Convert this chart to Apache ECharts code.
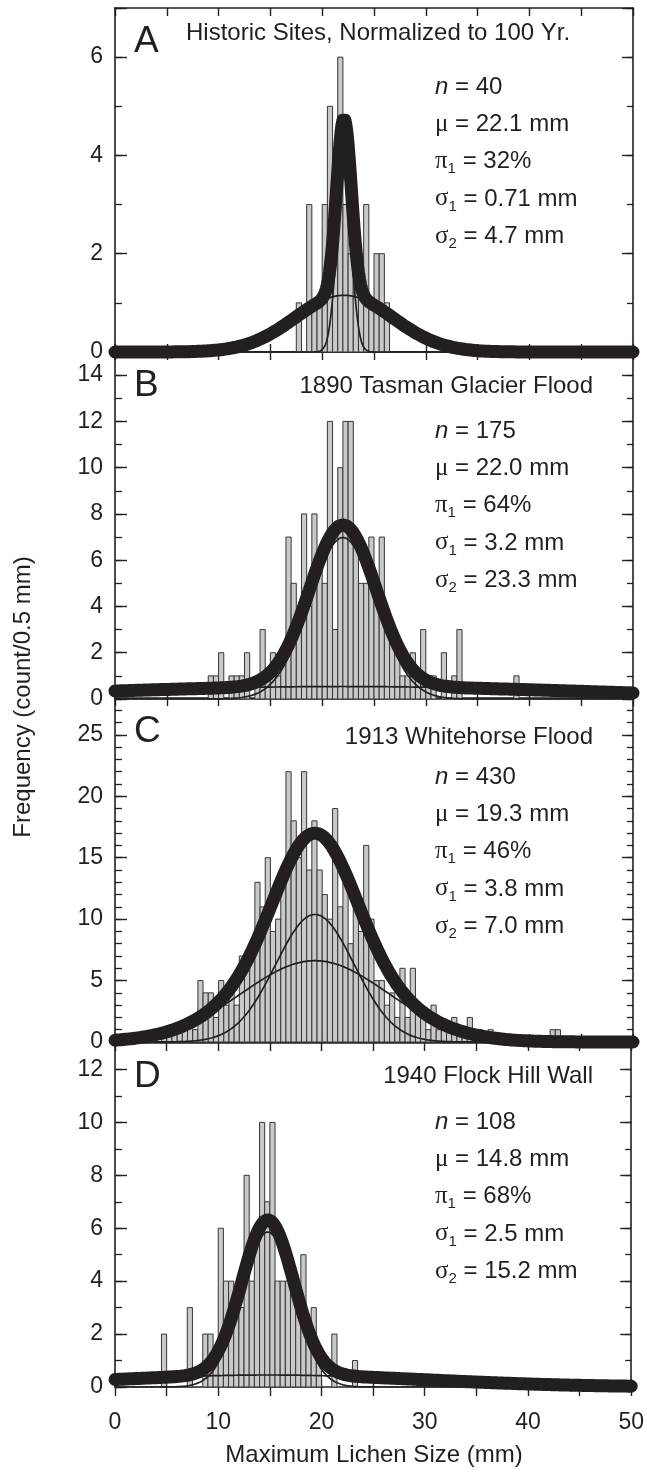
<!DOCTYPE html>
<html><head><meta charset="utf-8">
<script src="https://cdn.jsdelivr.net/npm/echarts@6/dist/echarts.min.js"></script>
<style>html,body{margin:0;padding:0;background:#fff}#c{width:647px;height:1475px}</style>
</head><body><div id="c"></div>
<script>
// ---------------- data ----------------
const binWidth = 0.5;
const binsA = [17.5,18.0,18.5,19.0,19.5,20.0,20.5,21.0,21.5,22.0,22.5,23.0,23.5,24.0,24.5,25.0,25.5,26.0];
const countsA = [1,0,3,1,1,3,5,2,6,3,2,2,2,3,1,2,2,1];

const binsB = [9.0,9.5,10.0,10.5,11.0,11.5,12.0,12.5,13.0,13.5,14.0,14.5,15.0,15.5,16.0,16.5,17.0,17.5,18.0,18.5,19.0,19.5,20.0,20.5,21.0,21.5,22.0,22.5,23.0,23.5,24.0,24.5,25.0,25.5,26.0,26.5,27.0,27.5,28.0,28.5,29.0,29.5,30.0,30.5,31.0,31.5,32.0,32.5,33.0,38.5];
const countsB = [1,1,2,0,1,1,1,2,0,1,3,1,2,1,2,7,5,3,8,4,8,6,5,12,3,10,12,12,7,5,5,7,5,7,3,3,2,1,1,2,1,3,1,1,0,2,0,1,3,1];

const binsC = [4.5,5.0,5.5,6.0,6.5,7.0,7.5,8.0,8.5,9.0,9.5,10.0,10.5,11.0,11.5,12.0,12.5,13.0,13.5,14.0,14.5,15.0,15.5,16.0,16.5,17.0,17.5,18.0,18.5,19.0,19.5,20.0,20.5,21.0,21.5,22.0,22.5,23.0,23.5,24.0,24.5,25.0,25.5,26.0,26.5,27.0,27.5,28.0,28.5,29.0,29.5,30.0,30.5,31.0,31.5,32.0,32.5,33.0,33.5,34.0,34.5,35.0,35.5,36.0,42.0,42.5];
const countsC = [1,1,1,1,1,2,1,5,4,4,2,5,3,5,3,7,7,8,13,11,15,9,10,13,22,18,15,22,14,18,14,12,10,19,11,14,8,11,9,16,10,5,5,3,4,2,6,2,6,3,2,1,3,1,1,1,2,1,1,2,0,1,0,1,1,1];

const binsD = [4.5,5.0,5.5,6.0,6.5,7.0,7.5,8.0,8.5,9.0,9.5,10.0,10.5,11.0,11.5,12.0,12.5,13.0,13.5,14.0,14.5,15.0,15.5,16.0,16.5,17.0,17.5,18.0,18.5,19.0,19.5,20.0,20.5,21.0,21.5,22.0,22.5,23.0];
const countsD = [2,0,0,0,0,3,0,0,2,2,1,6,4,4,3,3,8,4,6,10,7,10,4,4,4,4,3,5,2,3,1,0,0,2,0,0,0,1];

// panel texts and fitted-model parameters (as printed on the chart)
const panelLetters = ['A','B','C','D'];
const panelTitles = ['Historic Sites, Normalized to 100 Yr.','1890 Tasman Glacier Flood','1913 Whitehorse Flood','1940 Flock Hill Wall'];
const nValues = [40, 175, 430, 108];
const muValues = ['22.1', '22.0', '19.3', '14.8'];
const pi1Values = ['32', '64', '46', '68'];
const sigma1Values = ['0.71', '3.2', '3.8', '2.5'];
const sigma2Values = ['4.7', '23.3', '7.0', '15.2'];

// axis tick settings
const xTickValues = [0, 10, 20, 30, 40, 50];
const yMaxValues = [7, 15, 28, 13];
const yLabelSteps = [2, 2, 5, 2];
const xAxisTitle = 'Maximum Lichen Size (mm)';
const yAxisTitle = 'Frequency (count/0.5 mm)';

// ---------------- layout ----------------
const FONT = '"Liberation Sans", Arial, Helvetica, sans-serif';
const INK = '#231f20';
const gridLeft = 115, gridWidth = 518;
const gridTops = [8, 352, 698, 1043];
const gridHeights = [344, 347, 344, 344];
const titleDy = [25, 34, 39, 33];

const bins = [binsA, binsB, binsC, binsD];
const counts = [countsA, countsB, countsC, countsD];

function phi(z){ return Math.exp(-0.5*z*z)/Math.sqrt(2*Math.PI); }
function curves(i){
  const n = nValues[i], mu = +muValues[i], p1 = (+pi1Values[i])/100, s1 = +sigma1Values[i], s2 = +sigma2Values[i];
  const scale = n*binWidth;
  const c1 = [], c2 = [], tot = [];
  for (let k = 0; k <= 500; k++){
    const x = k/10;
    const a = scale*p1*phi((x-mu)/s1)/s1;
    const b = scale*(1-p1)*phi((x-mu)/s2)/s2;
    c1.push([x,a]); c2.push([x,b]); tot.push([x,a+b]);
  }
  return {c1, c2, tot};
}

const grid = [], xAxis = [], yAxis = [], series = [], graphic = [];
const isMult = (v, s) => Math.abs(v/s - Math.round(v/s)) < 1e-6;

for (let i = 0; i < 4; i++){
  grid.push({left: gridLeft, top: gridTops[i], width: gridWidth, height: gridHeights[i], containLabel: false});
  const lineStyle = {color: INK, width: 1.6};
  xAxis.push({gridIndex: i, type: 'value', min: 0, max: 50, interval: 5, position: 'bottom',
    axisLine: {show: true, onZero: false, lineStyle},
    axisTick: {show: true, inside: true, length: 8, lineStyle: {color: INK, width: 1.4}},
    axisLabel: {show: i === 3, margin: 24, fontSize: 23, fontFamily: FONT, color: INK,
      formatter: v => (xTickValues.indexOf(v) >= 0 ? String(v) : '')},
    splitLine: {show: false}});
  xAxis.push({gridIndex: i, type: 'value', min: 0, max: 50, interval: 5, position: 'top',
    axisLine: {show: true, onZero: false, lineStyle},
    axisTick: {show: true, inside: true, length: 8, lineStyle: {color: INK, width: 1.4}},
    axisLabel: {show: false}, splitLine: {show: false}});
  const ymax = yMaxValues[i], step = yLabelSteps[i];
  yAxis.push({gridIndex: i, type: 'value', min: 0, max: ymax, interval: step, position: 'left',
    axisLine: {show: true, onZero: false, lineStyle},
    axisTick: {show: true, inside: true, length: 12, lineStyle: {color: INK, width: 1.4}},
    axisLabel: {show: true, margin: 12, fontSize: 23, fontFamily: FONT, color: INK,
      formatter: v => (isMult(v, step) ? String(v) : '')},
    splitLine: {show: false}});
  yAxis.push({gridIndex: i, type: 'value', min: 0, max: ymax, interval: 1, position: 'left',
    axisLine: {show: false, onZero: false},
    axisTick: {show: true, inside: true, length: 7, lineStyle: {color: INK, width: 1.3}},
    axisLabel: {show: false}, splitLine: {show: false}});
  yAxis.push({gridIndex: i, type: 'value', min: 0, max: ymax, interval: step, position: 'right',
    axisLine: {show: true, onZero: false, lineStyle},
    axisTick: {show: true, inside: true, length: 11, lineStyle: {color: INK, width: 1.4}},
    axisLabel: {show: false}, splitLine: {show: false}});
  yAxis.push({gridIndex: i, type: 'value', min: 0, max: ymax, interval: 1, position: 'right',
    axisLine: {show: false, onZero: false},
    axisTick: {show: true, inside: true, length: 6, lineStyle: {color: INK, width: 1.3}},
    axisLabel: {show: false}, splitLine: {show: false}});

  const xi = 2*i, yi = 4*i;
  const histData = bins[i].map((b, k) => [b, b + binWidth, counts[i][k]]);
  series.push({type: 'custom', xAxisIndex: xi, yAxisIndex: yi, z: 2,
    data: histData, encode: {x: [0, 1], y: 2},
    renderItem: function(params, api){
      const s = api.value(0), e = api.value(1), v = api.value(2);
      if (!v) return null;
      const p0 = api.coord([s, v]), p1 = api.coord([e, 0]);
      return {type: 'rect', shape: {x: p0[0], y: p0[1], width: p1[0]-p0[0], height: p1[1]-p0[1]},
        style: {fill: '#c9c9c9', stroke: '#363636', lineWidth: 1}};
    }});
  const cv = curves(i);
  [cv.c1, cv.c2].forEach(d => series.push({type: 'line', xAxisIndex: xi, yAxisIndex: yi, z: 3,
    data: d, showSymbol: false, symbol: 'none', smooth: false, clip: true, silent: true,
    lineStyle: {color: INK, width: 1.7}}));
  series.push({type: 'line', xAxisIndex: xi, yAxisIndex: yi, z: 4, data: cv.tot,
    showSymbol: false, symbol: 'none', smooth: false, clip: false, silent: true,
    lineStyle: {color: INK, width: 13, cap: 'round', join: 'round'}});

  const top = gridTops[i];
  graphic.push({type: 'text', x: 134, y: top + 34, z: 10,
    style: {text: panelLetters[i], font: '37px ' + FONT, fill: INK, align: 'left', verticalAlign: 'middle'}});
  if (i === 0) {
    graphic.push({type: 'text', x: 186, y: top + titleDy[i], z: 10,
      style: {text: panelTitles[i], font: '24px ' + FONT, fill: INK, align: 'left', verticalAlign: 'middle'}});
  } else {
    graphic.push({type: 'text', x: 593, y: top + titleDy[i], z: 10,
      style: {text: panelTitles[i], font: '24px ' + FONT, fill: INK, align: 'right', verticalAlign: 'middle'}});
  }
  const rich = {
    it: {fontStyle: 'italic', fontSize: 24, fontFamily: FONT, fill: INK, lineHeight: 30},
    g: {fontSize: 25, fontFamily: '"Liberation Serif", "Times New Roman", serif', fill: INK, lineHeight: 30},
    sub: {fontSize: 15, fontFamily: FONT, fill: INK, lineHeight: 12, verticalAlign: 'bottom'}
  };
  const lines = [
    '{it|n} = ' + nValues[i],
    '{g|\u03bc} = ' + muValues[i] + ' mm',
    '{g|\u03c0}{sub|1} = ' + pi1Values[i] + '%',
    '{g|\u03c3}{sub|1} = ' + sigma1Values[i] + ' mm',
    '{g|\u03c3}{sub|2} = ' + sigma2Values[i] + ' mm'
  ];
  lines.forEach((t, k) => graphic.push({type: 'text', x: 435, y: top + 79 + k*37.3, z: 10,
    style: {text: t, rich: rich, fontSize: 24, fontFamily: FONT, fill: INK, lineHeight: 30,
      align: 'left', verticalAlign: 'middle'}}));
}
xAxis.push({gridIndex: 3, type: 'value', min: 0, max: 50, interval: 5, position: 'bottom',
  axisLine: {show: false, onZero: false},
  axisTick: {show: true, inside: false, length: 9, lineStyle: {color: INK, width: 1.4}},
  axisLabel: {show: false}, splitLine: {show: false}});

graphic.push({type: 'text', x: gridLeft + gridWidth/2, y: 1455, z: 10,
  style: {text: xAxisTitle, font: '24px ' + FONT, fill: INK, align: 'center', verticalAlign: 'middle'}});
graphic.push({type: 'text', x: 23, y: 697, rotation: Math.PI/2, z: 10,
  style: {text: yAxisTitle, font: '24px ' + FONT, fill: INK, align: 'center', verticalAlign: 'middle'}});

const chart = echarts.init(document.getElementById('c'), null, {renderer: 'canvas'});
chart.setOption({animation: false, backgroundColor: '#fff', grid, xAxis, yAxis, series, graphic});
</script></body></html>
